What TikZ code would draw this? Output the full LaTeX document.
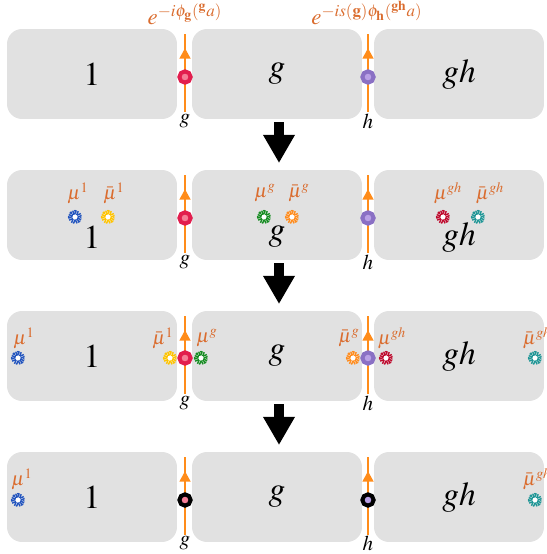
\documentclass[tikz,border=0pt]{standalone}
\usepackage{mathptmx}
\usetikzlibrary{arrows.meta,decorations.markings,positioning}

\definecolor{boxgray}{RGB}{225,225,225}
\definecolor{wallorange}{RGB}{255,140,26}
\definecolor{laborange}{RGB}{218,108,46}
\definecolor{dotred}{RGB}{226,30,78}
\definecolor{dotpink}{RGB}{245,125,150}
\definecolor{dotpurple}{RGB}{138,112,196}
\definecolor{dotlilac}{RGB}{185,160,230}
\definecolor{ringblue}{RGB}{34,84,190}
\definecolor{ringyellow}{RGB}{255,196,0}
\definecolor{ringgreen}{RGB}{22,140,34}
\definecolor{ringorange}{RGB}{255,140,30}
\definecolor{ringred}{RGB}{190,10,45}
\definecolor{ringteal}{RGB}{32,150,150}

\tikzset{
  box/.style={fill=boxgray,rounded corners=0.3cm,minimum width=3.4cm,minimum height=1.8cm,inner sep=0pt},
  big/.style={font=\fontsize{19}{21}\selectfont},
  small/.style={font=\fontsize{12}{14}\selectfont,inner sep=0pt},
  toplab/.style={text=laborange,font=\fontsize{13}{15}\selectfont,inner sep=0pt,anchor=base},
  mulab/.style={text=laborange,font=\fontsize{11}{13}\selectfont,inner sep=0pt},
  wall/.style={draw=wallorange,line width=1.7pt,postaction={decorate},
    decoration={markings,mark=at position 0.82 with {\arrow{Triangle[width=6pt,length=6pt]}}}},
  pdot/.style={circle,inner sep=0pt,minimum size=6.4pt,line width=2.3pt,draw=#1},
  ring/.style={circle,inner sep=0pt,minimum size=5.6pt,line width=2.4pt,fill=white,draw=#1,
    dash pattern=on 0.8pt off 0.4pt},
  bigarrow/.style={line width=5.7pt,-{Triangle[width=17pt,length=16pt]}}
}

\begin{document}
\begin{tikzpicture}[x=0.02cm,y=-0.02cm]
\useasboundingbox (0,0) rectangle (547,554);

% row 1
\node[box,big] (b11) at (92,74) {$1$};
\node[box,big] (b12) at (277,74) {$g$};
\node[box,big] (b13) at (459,74) {$gh$};
\coordinate (s11) at (185,112);
\coordinate (t11) at (185,34);
\coordinate (s12) at (368,112);
\coordinate (t12) at (368,34);
\draw[wall] (s11) -- (t11);
\draw[wall] (s12) -- (t12);
\node[pdot=dotred,fill=dotpink] (p11) at (185,77) {};
\node[pdot=dotpurple,fill=dotlilac] (p12) at (368,77) {};
\node[small,anchor=north] (g1) at (185,114) {$g$};
\node[small,anchor=north] (h1) at (368,114) {$h$};
\node[toplab] (e1) at (185,25) {$e^{-i\phi_{\mathbf{g}}({}^{\mathbf{g}}a)}$};
\node[toplab] (e2) at (367,25) {$e^{-is(\mathbf{g})\phi_{\mathbf{h}}({}^{\overline{\mathbf{gh}}}a)}$};

\coordinate (a1) at (279,122);
\coordinate (a2) at (279,163);
\draw[bigarrow] (a1) -- (a2);

% row 2
\node[box] (b21) at (92,215) {};
\node[box] (b22) at (277,215) {};
\node[box] (b23) at (459,215) {};
\node[big] (n21) at (92,237) {$1$};
\node[big] (n22) at (277,237) {$g$};
\node[big] (n23) at (459,237) {$gh$};
\coordinate (s21) at (185,253);
\coordinate (t21) at (185,175);
\coordinate (s22) at (368,253);
\coordinate (t22) at (368,175);
\draw[wall] (s21) -- (t21);
\draw[wall] (s22) -- (t22);
\node[pdot=dotred,fill=dotpink] (p21) at (185,218) {};
\node[pdot=dotpurple,fill=dotlilac] (p22) at (368,218) {};
\node[small,anchor=north] (g2) at (185,255) {$g$};
\node[small,anchor=north] (h2) at (368,255) {$h$};
\node[ring=ringblue] (d21) at (75,217) {};
\node[ring=ringyellow] (d22) at (108,217) {};
\node[ring=ringgreen] (d23) at (264,217) {};
\node[ring=ringorange] (d24) at (292,217) {};
\node[ring=ringred] (d25) at (443,217) {};
\node[ring=ringteal] (d26) at (478,217) {};
\node[mulab] (m21) at (78,193) {$\mu^1$};
\node[mulab] (m22) at (114,193) {$\bar\mu^1$};
\node[mulab] (m23) at (265,193) {$\mu^g$};
\node[mulab] (m24) at (299,193) {$\bar\mu^g$};
\node[mulab] (m25) at (448,193) {$\mu^{gh}$};
\node[mulab] (m26) at (490,193) {$\bar\mu^{gh}$};

\coordinate (a3) at (279,263);
\coordinate (a4) at (279,304);
\draw[bigarrow] (a3) -- (a4);

% row 3
\node[box,big] (b31) at (92,356) {$1$};
\node[box,big] (b32) at (277,356) {$g$};
\node[box,big] (b33) at (459,356) {$gh$};
\coordinate (s31) at (185,394);
\coordinate (t31) at (185,316);
\coordinate (s32) at (368,394);
\coordinate (t32) at (368,316);
\draw[wall] (s31) -- (t31);
\draw[wall] (s32) -- (t32);
\node[ring=ringyellow] (d32) at (170,358) {};
\node[ring=ringgreen] (d33) at (201,358) {};
\node[ring=ringorange] (d34) at (353,358) {};
\node[ring=ringred] (d35) at (386,358) {};
\node[pdot=dotred,fill=dotpink] (p31) at (185,358) {};
\node[pdot=dotpurple,fill=dotlilac] (p32) at (368,358) {};
\node[ring=ringblue] (d31) at (18,358) {};
\node[ring=ringteal] (d36) at (535,358) {};
\node[small,anchor=north] (g3) at (185,396) {$g$};
\node[small,anchor=north] (h3) at (368,396) {$h$};
\node[mulab] (m31) at (24,338) {$\mu^1$};
\node[mulab] (m32) at (163,338) {$\bar\mu^1$};
\node[mulab] (m33) at (207,338) {$\mu^g$};
\node[mulab] (m34) at (349,338) {$\bar\mu^g$};
\node[mulab] (m35) at (392,338) {$\mu^{gh}$};
\node[mulab] (m36) at (537,338) {$\bar\mu^{gh}$};

\coordinate (a5) at (279,404);
\coordinate (a6) at (279,445);
\draw[bigarrow] (a5) -- (a6);

% row 4
\node[box,big] (b41) at (92,497) {$1$};
\node[box,big] (b42) at (277,497) {$g$};
\node[box,big] (b43) at (459,497) {$gh$};
\coordinate (s41) at (185,535);
\coordinate (t41) at (185,457);
\coordinate (s42) at (368,535);
\coordinate (t42) at (368,457);
\draw[wall] (s41) -- (t41);
\draw[wall] (s42) -- (t42);
\node[pdot=black,fill=dotpink] (p41) at (185,500) {};
\node[pdot=black,fill=dotlilac] (p42) at (368,500) {};
\node[ring=ringblue] (d41) at (18,500) {};
\node[ring=ringteal] (d46) at (535,500) {};
\node[small,anchor=north] (g4) at (185,536) {$g$};
\node[small,anchor=north] (h4) at (368,536) {$h$};
\node[mulab] (m41) at (22,479) {$\mu^1$};
\node[mulab] (m46) at (537,479) {$\bar\mu^{gh}$};
\end{tikzpicture}
\end{document}
